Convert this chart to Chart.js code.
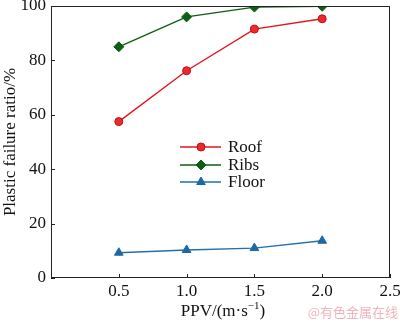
<!DOCTYPE html>
<html>
<head>
<meta charset="utf-8">
<script src="https://cdn.jsdelivr.net/npm/chart.js@4.4.1/dist/chart.umd.min.js"></script>
<style>
  html, body { margin: 0; padding: 0; background: #fff; }
  #wrap { width: 400px; height: 323px; }
</style>
</head>
<body>
<div id="wrap"><canvas id="grafica"></canvas></div>
<script>
// datos
var ppv = [0.5, 1.0, 1.5, 2.0];
var roof = [57.5, 76.2, 91.5, 95.3];
var ribs = [85.0, 96.0, 99.6, 99.9];
var floor = [9.3, 10.3, 11.0, 13.7];
var xTicks = [0.5, 1.0, 1.5, 2.0, 2.5];
var yTicks = [0, 20, 40, 60, 80, 100];

var serif = '"Liberation Serif", "Times New Roman", serif';

function puntos(valores) {
  return valores.map(function (v, i) { return { x: ppv[i], y: v }; });
}

// ticks hacia adentro, marco y leyenda
var extras = {
  id: 'extras',
  afterDraw: function (chart) {
    var ctx = chart.ctx;
    var a = chart.chartArea;
    var sx = chart.scales.x, sy = chart.scales.y;
    ctx.save();
    ctx.strokeStyle = '#222';
    ctx.lineWidth = 1;
    ctx.strokeRect(Math.round(a.left) + 0.5, Math.round(a.top) + 0.5,
      Math.round(a.right - a.left) - 1, Math.round(a.bottom - a.top) - 1);
    xTicks.forEach(function (t) {
      var px = Math.round(sx.getPixelForValue(t)) + 0.5;
      ctx.beginPath(); ctx.moveTo(px, a.bottom); ctx.lineTo(px, a.bottom - 4); ctx.stroke();
    });
    yTicks.forEach(function (t) {
      var py = Math.round(sy.getPixelForValue(t)) + 0.5;
      ctx.beginPath(); ctx.moveTo(a.left, py); ctx.lineTo(a.left + 4, py); ctx.stroke();
    });

    // titulo eje x con superindice
    ctx.fillStyle = '#111';
    ctx.textBaseline = 'alphabetic';
    ctx.font = '17px ' + serif;
    var p1 = 'PPV/(m\u00b7s', p2 = '\u22121', p3 = ')';
    var w1 = ctx.measureText(p1).width, w3 = ctx.measureText(p3).width;
    ctx.font = '11px ' + serif;
    var w2 = ctx.measureText(p2).width;
    var x0 = 223 - (w1 + w2 + w3) / 2, yb = 316;
    ctx.font = '17px ' + serif;
    ctx.textAlign = 'left';
    ctx.fillText(p1, x0, yb);
    ctx.font = '11px ' + serif;
    ctx.fillText(p2, x0 + w1, yb - 7);
    ctx.font = '17px ' + serif;
    ctx.fillText(p3, x0 + w1 + w2, yb);

    // leyenda
    var filas = [147, 165, 182];
    chart.data.datasets.forEach(function (ds, i) {
      var y = filas[i];
      ctx.strokeStyle = ds.borderColor;
      ctx.lineWidth = 1.4;
      ctx.beginPath(); ctx.moveTo(180, y); ctx.lineTo(221, y); ctx.stroke();
      ctx.fillStyle = ds.pointBackgroundColor;
      ctx.strokeStyle = ds.pointBorderColor;
      ctx.lineWidth = 1;
      Chart.helpers.drawPoint(ctx, {
        pointStyle: ds.pointStyle, radius: ds.pointRadius, borderWidth: 1, rotation: 0
      }, 201, y);
      ctx.fillStyle = '#111';
      ctx.font = '17px ' + serif;
      ctx.textAlign = 'left';
      ctx.textBaseline = 'middle';
      ctx.fillText(ds.label, 228, y + 1);
    });

    // marca de agua
    ctx.fillStyle = '#f1b3bb';
    ctx.font = '13px "Noto Sans CJK SC", sans-serif';
    ctx.textAlign = 'right';
    ctx.textBaseline = 'alphabetic';
    ctx.fillText('@有色金属在线', 398, 317);
    ctx.restore();
  }
};

var chart = new Chart(document.getElementById('grafica').getContext('2d'), {
  type: 'line',
  data: {
    datasets: [{
      label: 'Roof',
      data: puntos(roof),
      borderColor: '#e3151c',
      pointBackgroundColor: '#ec2a2e',
      pointBorderColor: '#c00d12',
      pointStyle: 'circle',
      pointRadius: 4
    }, {
      label: 'Ribs',
      data: puntos(ribs),
      borderColor: '#0d5e12',
      pointBackgroundColor: '#0d5e12',
      pointBorderColor: '#0d5e12',
      pointStyle: 'rectRot',
      pointRadius: 5
    }, {
      label: 'Floor',
      data: puntos(floor),
      borderColor: '#2270ab',
      pointBackgroundColor: '#1d68a3',
      pointBorderColor: '#1d68a3',
      pointStyle: 'triangle',
      pointRadius: 5
    }]
  },
  options: {
    responsive: true,
    maintainAspectRatio: false,
    animation: false,
    layout: { padding: { top: 6, right: 10, left: 0, bottom: 0 } },
    datasets: { line: { borderWidth: 1.4, tension: 0, pointBorderWidth: 1 } },
    plugins: {
      legend: { display: false },
      tooltip: { enabled: false }
    },
    scales: {
      x: {
        type: 'linear',
        min: 0,
        max: 2.5,
        afterBuildTicks: function (s) { s.ticks = xTicks.map(function (v) { return { value: v }; }); },
        afterFit: function (s) { s.height = 45; s.paddingLeft = 0; s.paddingRight = 0; },
        grid: { display: false, drawTicks: false },
        border: { display: false },
        ticks: {
          color: '#111',
          padding: 3,
          maxRotation: 0,
          font: { family: serif, size: 17 },
          callback: function (v) { return Number(v).toFixed(1); }
        }
      },
      y: {
        min: 0,
        max: 100,
        afterBuildTicks: function (s) { s.ticks = yTicks.map(function (v) { return { value: v }; }); },
        afterFit: function (s) { s.width = 51; s.paddingTop = 0; s.paddingBottom = 0; },
        grid: { display: false, drawTicks: false },
        border: { display: false },
        ticks: {
          color: '#111',
          padding: 5,
          font: { family: serif, size: 17 }
        },
        title: {
          display: true,
          text: 'Plastic failure ratio/%',
          color: '#111',
          padding: { top: 0, bottom: 0 },
          font: { family: serif, size: 17 }
        }
      }
    }
  },
  plugins: [extras]
});
</script>
</body>
</html>
